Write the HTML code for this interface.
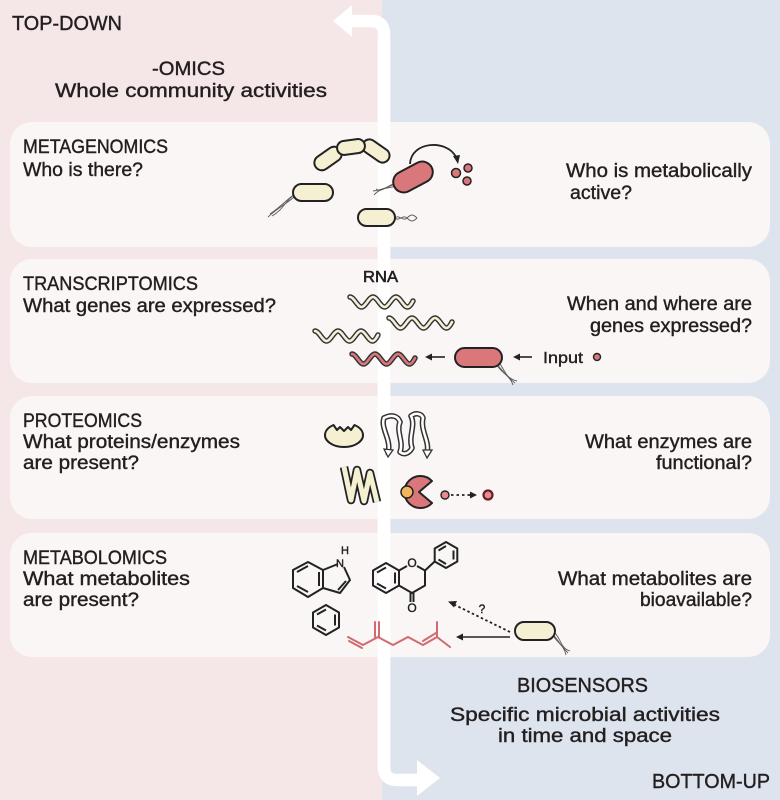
<!DOCTYPE html>
<html><head><meta charset="utf-8"><style>
html,body{margin:0;padding:0;background:#fff;}
svg{display:block;}
text{font-family:"Liberation Sans",sans-serif;fill:#231f20;stroke:#231f20;stroke-width:0.4px;}
</style></head><body>
<svg width="780" height="800" viewBox="0 0 780 800" xmlns="http://www.w3.org/2000/svg">
<defs>
<path id="wv" d="M0 0 C4 0 7.5 10 11.5 10 C15.5 10 19 0 23 0 C27 0 30.5 10 34.5 10 C38.5 10 42 0 46 0 C50 0 53.5 10 57.5 10 C60 10 62 6 63 4"/>
</defs>
<!-- backgrounds -->
<rect x="0" y="0" width="382" height="800" fill="#f5e6e7"/>
<rect x="382" y="0" width="398" height="800" fill="#dde4ed"/>
<!-- panels -->
<g fill="#faf6f5">
<rect x="10" y="122" width="760" height="125" rx="22"/>
<rect x="10" y="259" width="760" height="124" rx="22"/>
<rect x="10" y="396" width="760" height="123" rx="22"/>
<rect x="10" y="533" width="760" height="124" rx="22"/>
</g>
<!-- white arrow -->
<g fill="none" stroke="#ffffff" stroke-width="12.5">
<path d="M384 772 V34 Q384 21 371 21 H349"/>
<path d="M384 40 V767 Q384 780 397 780 H420"/>
</g>
<polygon points="333,21 352,5 352,37" fill="#fff"/>
<polygon points="440,778 417,760 417,796" fill="#fff"/>

<!-- header texts -->
<text x="12" y="30" font-size="20" textLength="110" lengthAdjust="spacingAndGlyphs">TOP-DOWN</text>
<text x="152" y="75" font-size="19" textLength="73" lengthAdjust="spacingAndGlyphs">-OMICS</text>
<text x="55" y="97" font-size="19" textLength="272" lengthAdjust="spacingAndGlyphs">Whole community activities</text>

<!-- panel 1 texts -->
<text x="23" y="153" font-size="19" textLength="145" lengthAdjust="spacingAndGlyphs">METAGENOMICS</text>
<text x="23" y="176" font-size="19" textLength="120" lengthAdjust="spacingAndGlyphs">Who is there?</text>
<text x="566" y="177" font-size="19" textLength="186" lengthAdjust="spacingAndGlyphs">Who is metabolically</text>
<text x="570" y="199" font-size="19" textLength="62" lengthAdjust="spacingAndGlyphs">active?</text>

<!-- panel 2 texts -->
<text x="23" y="290" font-size="19" textLength="175" lengthAdjust="spacingAndGlyphs">TRANSCRIPTOMICS</text>
<text x="23" y="312" font-size="19" textLength="253" lengthAdjust="spacingAndGlyphs">What genes are expressed?</text>
<text x="567" y="310" font-size="19" textLength="185" lengthAdjust="spacingAndGlyphs">When and where are</text>
<text x="590" y="332" font-size="19" textLength="162" lengthAdjust="spacingAndGlyphs">genes expressed?</text>
<text x="363" y="282" font-size="16" textLength="35" lengthAdjust="spacingAndGlyphs" style="stroke-width:0.6px">RNA</text>
<text x="543" y="363" font-size="16" textLength="40" lengthAdjust="spacingAndGlyphs">Input</text>

<!-- panel 3 texts -->
<text x="23" y="427" font-size="19" textLength="119" lengthAdjust="spacingAndGlyphs">PROTEOMICS</text>
<text x="23" y="448" font-size="19" textLength="217" lengthAdjust="spacingAndGlyphs">What proteins/enzymes</text>
<text x="23" y="469" font-size="19" textLength="116" lengthAdjust="spacingAndGlyphs">are present?</text>
<text x="585" y="448" font-size="19" textLength="167" lengthAdjust="spacingAndGlyphs">What enzymes are</text>
<text x="656" y="469" font-size="19" textLength="96" lengthAdjust="spacingAndGlyphs">functional?</text>

<!-- panel 4 texts -->
<text x="23" y="564" font-size="19" textLength="144" lengthAdjust="spacingAndGlyphs">METABOLOMICS</text>
<text x="23" y="585" font-size="19" textLength="167" lengthAdjust="spacingAndGlyphs">What metabolites</text>
<text x="23" y="606" font-size="19" textLength="116" lengthAdjust="spacingAndGlyphs">are present?</text>
<text x="558" y="585" font-size="19" textLength="194" lengthAdjust="spacingAndGlyphs">What metabolites are</text>
<text x="640" y="606" font-size="19" textLength="112" lengthAdjust="spacingAndGlyphs">bioavailable?</text>

<!-- bottom texts -->
<text x="517" y="692" font-size="20" textLength="131" lengthAdjust="spacingAndGlyphs">BIOSENSORS</text>
<text x="450" y="721" font-size="19" textLength="270" lengthAdjust="spacingAndGlyphs">Specific microbial activities</text>
<text x="498" y="742" font-size="19" textLength="174" lengthAdjust="spacingAndGlyphs">in time and space</text>
<text x="652" y="788" font-size="20" textLength="118" lengthAdjust="spacingAndGlyphs">BOTTOM-UP</text>

<!-- ===== Panel 1 drawings ===== -->
<g fill="none" stroke="#5a5a5a" stroke-width="0.9">
<path d="M295 194 C287 199 282 206 270 214"/>
<path d="M295 196 C288 203 280 206 268 217"/>
<path d="M294 195 C286 200 283 210 272 216"/>
<path d="M395 218 C399 214 403 222 407 218 S413 214 417 218"/>
<path d="M395 218 C399 222 403 214 407 218 S413 222 417 218"/>
<path d="M399 183 C390 185 384 190 373 191"/>
<path d="M399 185 C390 189 382 186 374 195"/>
<path d="M398 184 C389 182 383 194 376 189"/>
</g>
<g stroke="#222" stroke-width="2" fill="#f6f0d2">
<rect x="313" y="151" width="30" height="15" rx="7.5" transform="rotate(-35 328 158.5)"/>
<rect x="361" y="144" width="30" height="14" rx="7" transform="rotate(35 376 151)"/>
<rect x="337" y="140" width="28" height="14" rx="7" transform="rotate(-8 351 147)"/>
<rect x="293" y="184" width="40" height="17" rx="8.5"/>
<rect x="358" y="209" width="37" height="17" rx="8.5"/>
</g>
<rect x="392" y="166.5" width="42" height="21" rx="10.5" transform="rotate(-28 413 177)" fill="#d9777b" stroke="#222" stroke-width="2"/>
<path d="M410 164 C411 141 447 139 456 157" fill="none" stroke="#222" stroke-width="1.8"/>
<polygon points="458,164 453,156 460,155" fill="#222"/>
<g fill="#d9777b" stroke="#222" stroke-width="1.5">
<circle cx="456" cy="173" r="4.5"/>
<circle cx="468" cy="168" r="4"/>
<circle cx="467" cy="181" r="4"/>
</g>

<!-- ===== Panel 2 drawings ===== -->
<g fill="none" stroke-linecap="round">
<g stroke="#333" stroke-width="5.5">
<use href="#wv" transform="translate(350 297)"/>
<use href="#wv" transform="translate(389 318)"/>
<use href="#wv" transform="translate(315 331)"/>
<use href="#wv" transform="translate(352 354)"/>
</g>
<g stroke="#f3efd8" stroke-width="2.6">
<use href="#wv" transform="translate(350 297)"/>
<use href="#wv" transform="translate(389 318)"/>
<use href="#wv" transform="translate(315 331)"/>
</g>
<use href="#wv" transform="translate(352 354)" stroke="#d9777b" stroke-width="2.6"/>
</g>
<g fill="none" stroke="#5a5a5a" stroke-width="0.9">
<path d="M496 363 C502 370 506 376 515 383"/>
<path d="M497 365 C501 373 509 374 513 385"/>
<path d="M498 362 C505 368 504 378 517 381"/>
</g>
<rect x="455" y="348" width="47" height="19" rx="9.5" fill="#d9777b" stroke="#222" stroke-width="2"/>
<g stroke="#222" stroke-width="1.6">
<line x1="445" y1="357" x2="431" y2="357"/>
<line x1="532" y1="357" x2="519" y2="357"/>
</g>
<polygon points="425,357 432,353.5 432,360.5" fill="#222"/>
<polygon points="513,357 520,353.5 520,360.5" fill="#222"/>
<circle cx="597" cy="357" r="3.5" fill="#d9777b" stroke="#222" stroke-width="1.4"/>

<!-- ===== Panel 3 drawings ===== -->
<path d="M333.5 425 A19 12 0 1 0 354.5 425 L351 430 L348 427 L344 431 L340 427 L337 430 Z" fill="#f6f0d2" stroke="#222" stroke-width="2" stroke-linejoin="round"/>
<g fill="none" stroke-linecap="round" stroke-linejoin="round">
<g stroke="#333" stroke-width="5.5">
<path d="M384 418 C380 428 392 440 388 453"/>
<path d="M384 418 C392 414 398 416 400 422"/>
<path d="M400 422 C396 432 404 442 400 452"/>
<path d="M400 452 C405 456 410 452 412 448"/>
<path d="M412 448 C408 436 416 426 411 416"/>
<path d="M411 416 C416 412 422 414 423 418"/>
<path d="M423 418 C420 430 430 442 427 452"/>
</g>
<g stroke="#fff" stroke-width="2.5">
<path d="M384 418 C380 428 392 440 388 453"/>
<path d="M384 418 C392 414 398 416 400 422"/>
<path d="M400 422 C396 432 404 442 400 452"/>
<path d="M400 452 C405 456 410 452 412 448"/>
<path d="M412 448 C408 436 416 426 411 416"/>
<path d="M411 416 C416 412 422 414 423 418"/>
<path d="M423 418 C420 430 430 442 427 452"/>
</g>
</g>
<g fill="none" stroke-linejoin="round">
<polyline points="344,467 351,500 357,470 364,501 370,473 377,502" stroke="#222" stroke-width="8.5"/>
<polyline points="344,467 351,500 357,470 364,501 370,473 377,502" stroke="#f6f0d2" stroke-width="5"/>
</g>
<polygon points="427,458 423,450 432,450" fill="#fff" stroke="#333" stroke-width="1.3"/>
<polygon points="388,457 384,449 393,450" fill="#fff" stroke="#333" stroke-width="1.3"/>
<path d="M419 492 L432 481 A16 16 0 1 0 432 503 Z" fill="#d9777b" stroke="#222" stroke-width="2" stroke-linejoin="round"/>
<circle cx="407" cy="492" r="6" fill="#f2b75d" stroke="#222" stroke-width="1.5"/>
<circle cx="445" cy="495" r="4" fill="#e88b90" stroke="#222" stroke-width="1.4"/>
<line x1="451" y1="495" x2="471" y2="495" stroke="#222" stroke-width="1.8" stroke-dasharray="2.5 3"/>
<polygon points="477,495 470,491.5 470,498.5" fill="#222"/>
<circle cx="488" cy="495" r="4.5" fill="#e88b90" stroke="#6b1f25" stroke-width="2.2"/>

<!-- ===== Panel 4 drawings ===== -->
<g fill="none" stroke="#222" stroke-width="2" stroke-linejoin="round">
<!-- indole -->
<polygon points="308,562 323,570 323,588 308,597 293,588 293,570"/>
<line x1="297" y1="572" x2="308" y2="566"/>
<line x1="297" y1="586" x2="308" y2="592"/>
<line x1="319" y1="572" x2="319" y2="586"/>
<polyline points="323,570 338,564"/>
<polyline points="344,567 350,580 340,593 323,588"/>
<line x1="346" y1="581" x2="338" y2="590"/>
<!-- benzene -->
<polygon points="326,605 339,612.5 339,627.5 326,635 313,627.5 313,612.5"/>
<line x1="317" y1="614.5" x2="326" y2="609.5"/>
<line x1="335" y1="614.5" x2="335" y2="625.5"/>
<line x1="317" y1="625.5" x2="326" y2="630.5"/>
<!-- flavanone -->
<polygon points="386,563 399,570.5 399,585.5 386,593 373,585.5 373,570.5"/>
<line x1="377" y1="572.5" x2="386" y2="567.5"/>
<line x1="377" y1="583.5" x2="386" y2="588.5"/>
<line x1="395" y1="572.5" x2="395" y2="583.5"/>
<polyline points="399,570.5 407,566"/>
<polyline points="417,566 425,570.5 425,585.5 412,593 399,585.5"/>
<line x1="410.5" y1="593" x2="410.5" y2="602"/>
<line x1="413.5" y1="593" x2="413.5" y2="602"/>
<line x1="425" y1="570.5" x2="434.7" y2="561.5"/>
<polygon points="446,542 457.3,548.5 457.3,561.5 446,568 434.7,561.5 434.7,548.5"/>
<line x1="438.5" y1="550.5" x2="446" y2="546"/>
<line x1="453.5" y1="550.5" x2="453.5" y2="559.5"/>
<line x1="438.5" y1="559.5" x2="446" y2="564"/>
</g>
<text x="340" y="567" font-size="11" text-anchor="middle">N</text>
<text x="345" y="554" font-size="11" text-anchor="middle">H</text>
<text x="412" y="567" font-size="12" text-anchor="middle">O</text>
<text x="412" y="612" font-size="12" text-anchor="middle">O</text>
<!-- myrcene -->
<g fill="none" stroke="#d06a70" stroke-width="2" stroke-linejoin="round" stroke-linecap="round">
<polyline points="348,637 363,645 378,637 393,645 408,637 423,645 437,637 450,647"/>
<line x1="349" y1="641" x2="362" y2="648"/>
<line x1="375" y1="637" x2="375" y2="622"/>
<line x1="379" y1="637" x2="379" y2="622"/>
<line x1="423" y1="641" x2="436" y2="633"/>
<line x1="437" y1="637" x2="437" y2="622"/>
</g>
<line x1="510" y1="637" x2="462" y2="637" stroke="#222" stroke-width="1.6"/>
<polygon points="456,637 463,633.5 463,640.5" fill="#222"/>
<line x1="510" y1="632" x2="455" y2="605" stroke="#222" stroke-width="1.8" stroke-dasharray="2.5 2.5"/>
<polygon points="448,601.5 457,601 454,607.5" fill="#222"/>
<text x="482" y="613" font-size="12" text-anchor="middle">?</text>
<g fill="none" stroke="#5a5a5a" stroke-width="0.9">
<path d="M552 633 C558 640 561 646 568 653"/>
<path d="M553 635 C557 643 564 645 566 655"/>
<path d="M554 632 C561 638 560 648 570 651"/>
</g>
<rect x="515" y="622" width="40" height="18" rx="9" fill="#f6f0d2" stroke="#222" stroke-width="2"/>
</svg>
</body></html>
